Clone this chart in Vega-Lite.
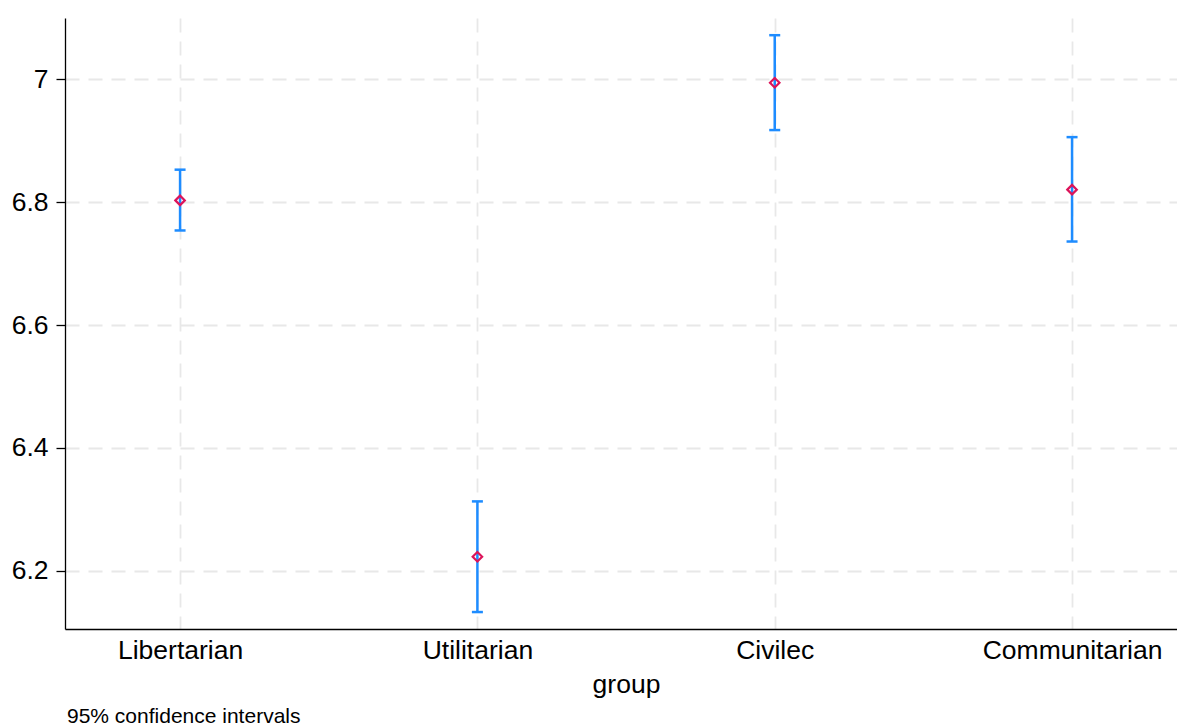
{
  "$schema": "https://vega.github.io/schema/vega-lite/v6.json",
  "width": 1112,
  "height": 611,
  "autosize": {"type": "none"},
  "padding": {"left": 65, "top": 18, "right": 0, "bottom": 98},
  "background": "white",
  "config": {
    "view": {"stroke": null},
    "font": "Liberation Sans",
    "axis": {
      "domainColor": "black",
      "domainWidth": 1.3,
      "tickColor": "black",
      "tickWidth": 1.3,
      "labelColor": "black",
      "labelFont": "Liberation Sans",
      "labelFontSize": 26.5,
      "titleFont": "Liberation Sans",
      "titleFontSize": 26.5,
      "titleFontWeight": "normal",
      "titleColor": "black",
      "gridColor": "#e8e8e8",
      "gridWidth": 1.8,
      "gridDash": [14, 9]
    }
  },
  "title": {
    "text": "95% confidence intervals",
    "orient": "bottom",
    "anchor": "start",
    "frame": "group",
    "font": "Liberation Sans",
    "fontSize": 21,
    "fontWeight": "normal",
    "color": "black",
    "offset": 8,
    "dx": 2
  },
  "data": {
    "values": [
      {"group": "Libertarian", "mean": 6.803, "lower": 6.754, "upper": 6.853},
      {"group": "Utilitarian", "mean": 6.2226, "lower": 6.1326, "upper": 6.3128},
      {"group": "Civilec", "mean": 6.9946, "lower": 6.9175, "upper": 7.072},
      {"group": "Communitarian", "mean": 6.8205, "lower": 6.736, "upper": 6.906}
    ]
  },
  "encoding": {
    "x": {
      "field": "group",
      "type": "nominal",
      "sort": null,
      "scale": {"type": "point", "padding": 0.37, "align": 0.523},
      "axis": {
        "title": "group",
        "labelAngle": 0,
        "ticks": false,
        "labelPadding": 8,
        "titlePadding": 8,
        "titleX": 561,
        "grid": true
      }
    }
  },
  "layer": [
    {
      "mark": {"type": "rule", "color": "#1e8cff", "strokeWidth": 2.5},
      "encoding": {
        "y": {
          "field": "lower",
          "type": "quantitative",
          "scale": {"domain": [6.105, 7.1], "nice": false, "zero": false},
          "axis": {
            "title": null,
            "values": [6.2, 6.4, 6.6, 6.8, 7.0],
            "format": ".1~f",
            "tickSize": 9,
            "labelPadding": 8,
            "grid": true
          }
        },
        "y2": {"field": "upper"}
      }
    },
    {
      "mark": {"type": "tick", "color": "#1e8cff", "size": 11, "thickness": 2.5, "opacity": 1},
      "encoding": {"y": {"field": "upper", "type": "quantitative"}}
    },
    {
      "mark": {"type": "tick", "color": "#1e8cff", "size": 11, "thickness": 2.5, "opacity": 1},
      "encoding": {"y": {"field": "lower", "type": "quantitative"}}
    },
    {
      "mark": {"type": "point", "shape": "diamond", "filled": false, "color": "#dc145a", "strokeWidth": 2.2, "size": 90, "opacity": 1},
      "encoding": {"y": {"field": "mean", "type": "quantitative"}}
    }
  ]
}
